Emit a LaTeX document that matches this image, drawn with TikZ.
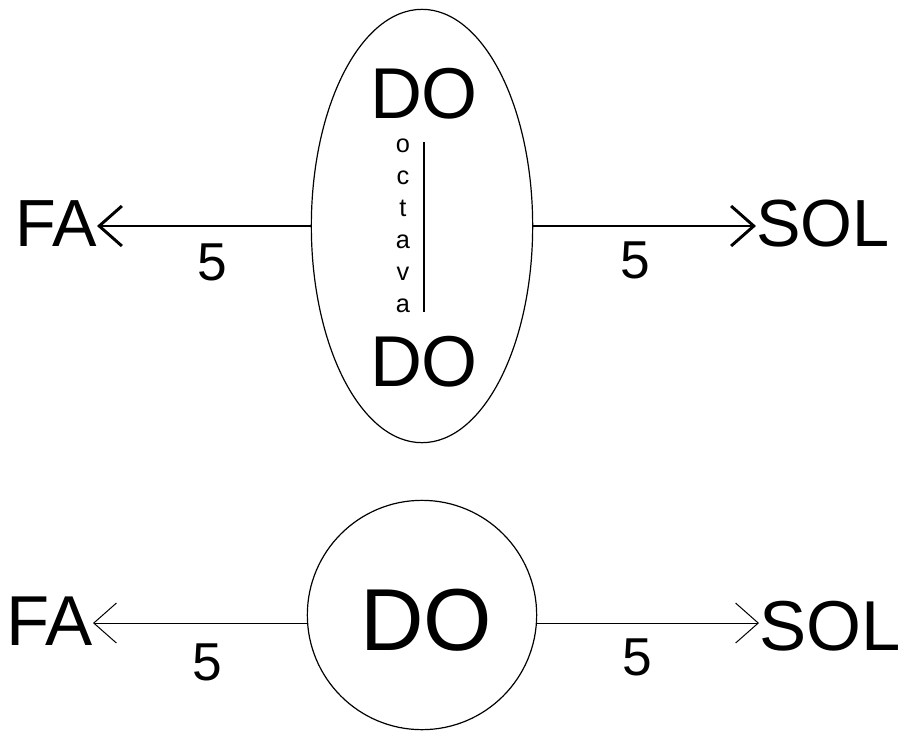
\documentclass[tikz,border=0pt]{standalone}
\usepackage{fontspec}
\setmainfont{Liberation Sans}
\usetikzlibrary{arrows.meta, shapes.geometric}

\begin{document}
\begin{tikzpicture}[x=0.75pt, y=-0.75pt,
  note/.style={inner sep=0pt, font=\fontsize{50}{50}\selectfont},
  num/.style={inner sep=0pt, font=\fontsize{40}{40}\selectfont},
  arr/.style={-{Straight Barb[length=17pt, width=30pt]}}]
\useasboundingbox (0,0) rectangle (904,740);

% octave diagram
\node[draw, ellipse, line width=0.9pt, minimum width=166pt, minimum height=325pt] (oct) at (422,226) {};
\node[note, font=\fontsize{54}{54}\selectfont] (dotop) at (424,94) {DO};
\node[note, font=\fontsize{54}{54}\selectfont] (dobot) at (424,362) {DO};
\node[inner sep=0pt, align=center, font=\fontsize{19}{24}\selectfont] (word) at (403,226) {o\\c\\t\\a\\v\\a};
\draw[line width=1.5pt] (424,142) -- (424,312);

\node[note, anchor=east] (fa1) at (97,224) {FA};
\node[note, anchor=west] (sol1) at (756,224) {SOL};
\node[num] (n1) at (212,262) {5};
\node[num] (n2) at (635,260) {5};

\path[arr, line width=2.2pt]
(oct.west) edge (oct.west -| fa1.east)
(oct.east) edge (oct.east -| sol1.west);

% single note
\node[draw, circle, line width=0.9pt, minimum size=172pt] (do) at (422,615) {};
\node[note, font=\fontsize{66}{66}\selectfont] (dobig) at (426,620) {DO};

\node[note, font=\fontsize{53}{54}\selectfont, anchor=east] (fa2) at (93,621) {FA};
\node[note, font=\fontsize{53}{54}\selectfont, anchor=west] (sol2) at (759,626) {SOL};
\node[num] (n3) at (207,662) {5};
\node[num] (n4) at (637,657) {5};

\path[arr, line width=0.75pt]
(do.184) edge (do.184 -| fa2.east)
(do.-4) edge (do.-4 -| sol2.west);
\end{tikzpicture}
\end{document}
